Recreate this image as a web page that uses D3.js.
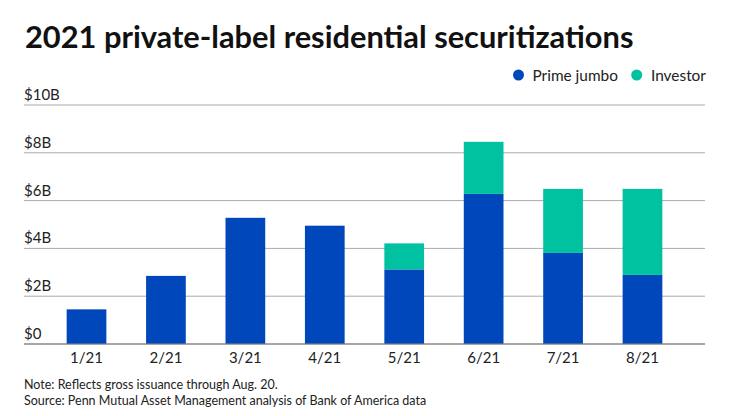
<!DOCTYPE html>
<html lang="en">
<head>
<meta charset="UTF-8">
<title>2021 private-label residential securitizations</title>
<style>
  body, html { margin: 0; padding: 0; background: #fff; }
  svg { display: block; font-family: Lato, 'Open Sans', sans-serif; }
</style>
</head>
<body>
<svg id="svg" width="740" height="416"></svg>
<script src="https://d3js.org/d3.v7.min.js"></script>
<script>
// ----- DATA (billions of dollars) -----
const months = ['1/21', '2/21', '3/21', '4/21', '5/21', '6/21', '7/21', '8/21']
const primeJumbo = [1.45, 2.85, 5.28, 4.95, 3.12, 6.28, 3.81, 2.89]
const investor = [0, 0, 0, 0, 1.09, 2.18, 2.68, 3.60]
const seriesNames = ['Prime jumbo', 'Investor']
const yTicks = [0, 2, 4, 6, 8, 10]
const yTickLabels = ['$0', '$2B', '$4B', '$6B', '$8B', '$10B']

const colors = { 'Prime jumbo': '#0047bb', 'Investor': '#00c2a0' }

const rows = months.map((m, i) => ({ month: m, 'Prime jumbo': primeJumbo[i], 'Investor': investor[i] }))
const stacked = d3.stack().keys(seriesNames)(rows)

// ----- SCALES -----
const left = 24, right = 705
const xScale = d3.scaleBand()
    .domain(months)
    .range([46.8, 682.2])
    .paddingInner(0.5)
    .paddingOuter(0.25)

const yScale = d3.scaleLinear()
    .domain([0, 10])
    .range([344, 105])

const svg = d3.select('#svg')

// title
svg.append('text')
    .attr('x', 25)
    .attr('y', 48)
    .style('font-size', '30.8px')
    .style('font-weight', 'bold')
    .attr('fill', '#111')
    .text('2021 private-label residential securitizations')

// legend
const legendItems = [
    { name: 'Prime jumbo', cx: 518.5, tx: 532.5 },
    { name: 'Investor', cx: 636.7, tx: 651 }
]
const legend = svg.append('g')
legend.selectAll('circle')
    .data(legendItems)
    .join('circle')
    .attr('cx', d => d.cx)
    .attr('cy', 75)
    .attr('r', 5.5)
    .attr('fill', d => colors[d.name])
legend.selectAll('text')
    .data(legendItems)
    .join('text')
    .attr('x', d => d.tx)
    .attr('y', 80.5)
    .style('font-size', '15.4px')
    .attr('fill', '#222')
    .text(d => d.name)

// gridlines + y labels
const grid = svg.append('g')
grid.selectAll('line')
    .data(yTicks)
    .join('line')
    .attr('x1', left)
    .attr('x2', right)
    .attr('y1', d => yScale(d))
    .attr('y2', d => yScale(d))
    .attr('stroke', d => d === 0 ? '#888' : '#aaa')
    .attr('stroke-width', 1)
grid.selectAll('text')
    .data(yTicks)
    .join('text')
    .attr('x', left)
    .attr('y', d => yScale(d) - 5)
    .style('font-size', '15px')
    .attr('fill', '#222')
    .text((d, i) => yTickLabels[i])

// bars
svg.append('g')
    .selectAll('g')
    .data(stacked)
    .join('g')
    .attr('fill', d => colors[d.key])
    .selectAll('rect')
    .data(d => d)
    .join('rect')
    .attr('x', d => xScale(d.data.month))
    .attr('y', d => yScale(d[1]))
    .attr('width', xScale.bandwidth())
    .attr('height', d => yScale(d[0]) - yScale(d[1]))

// baseline on top
svg.append('line')
    .attr('x1', left).attr('x2', right)
    .attr('y1', yScale(0)).attr('y2', yScale(0))
    .attr('stroke', '#888')

// x axis labels
const bottomAxis = d3.axisBottom(xScale).tickSize(0).tickPadding(8)
const xg = svg.append('g')
    .attr('transform', `translate(0, ${yScale(0)})`)
    .call(bottomAxis)
xg.select('.domain').remove()
xg.selectAll('text')
    .style('font-size', '15px')
    .style('font-family', 'Lato, sans-serif')
    .attr('fill', '#222')

// footnotes
svg.append('text')
    .attr('x', left)
    .attr('y', 389)
    .style('font-size', '12.5px')
    .attr('fill', '#222')
    .text('Note: Reflects gross issuance through Aug. 20.')
svg.append('text')
    .attr('x', left)
    .attr('y', 405)
    .style('font-size', '12.5px')
    .attr('fill', '#222')
    .text('Source: Penn Mutual Asset Management analysis of Bank of America data')
</script>
</body>
</html>
